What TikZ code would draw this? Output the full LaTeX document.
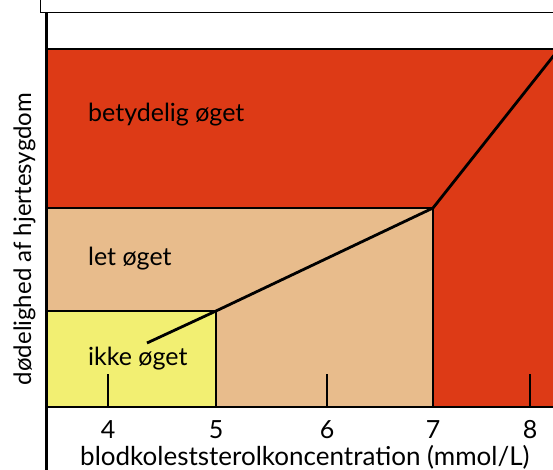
\documentclass[tikz,border=0pt]{standalone}
\usepackage{fontspec}
\setmainfont{Lato}
\definecolor{redc}{RGB}{221,58,22}
\definecolor{tanc}{RGB}{232,188,140}
\definecolor{yelc}{RGB}{242,239,114}
\begin{document}
\begin{tikzpicture}[x=1pt,y=-1pt,
  edge/.style={line width=2.8pt,line join=miter},
  lbl/.style={anchor=base west,inner sep=0pt,font=\fontsize{25}{30}\selectfont},
  ticklbl/.style={anchor=base,inner sep=0pt,font=\fontsize{25}{30}\selectfont}]
\useasboundingbox (0,0) rectangle (553,470);
% regions
\fill[redc] (48,49) rectangle (556,208);
\fill[redc] (433,208) rectangle (556,407);
\fill[tanc] (48,208) rectangle (433,407);
\fill[yelc] (48,311) rectangle (216,407);
% top frame box
\draw[line width=1.5pt,fill=white] (40.5,-5) rectangle (560,12.5);
% borders
\coordinate (p0) at (147,343);
\coordinate (p5) at (216,311);
\coordinate (p7) at (433,208);
\coordinate (p8) at (555,54);
\draw[edge] (48,49) -- (556,49);
\draw[edge] (48,208) -- (p7) -- (433,407);
\draw[edge] (48,311) -- (p5) -- (216,407);
\draw[edge] (48,407) -- (556,407);
\draw[line width=3pt] (46.5,13) -- (46.5,472);
\draw[edge,line join=round] (p0) -- (p5) -- (p7) -- (p8);
% ticks
\foreach \x in {108,327,530} \draw[edge] (\x,374) -- (\x,407);
% tick labels
\node[ticklbl] (t4) at (108,438) {4};
\node[ticklbl] (t5) at (216,438) {5};
\node[ticklbl] (t6) at (327,438) {6};
\node[ticklbl] (t7) at (433,438) {7};
\node[ticklbl] (t8) at (530,438) {8};
% region labels
\node[lbl] (l1) at (88,122) {betydelig øget};
\node[lbl] (l2) at (88,265) {let øget};
\node[lbl] (l3) at (88,365) {ikke øget};
% axis labels
\node[anchor=base west,inner sep=0pt,font=\fontsize{26}{30}\selectfont] (xl) at (80,465) {blodkoleststerolkoncentration (mmol/L)};
\node[anchor=base,inner sep=0pt,rotate=90,font=\fontsize{24}{28}\selectfont] (yl) at (31,239) {dødelighed af hjertesygdom};
\end{tikzpicture}
\end{document}
